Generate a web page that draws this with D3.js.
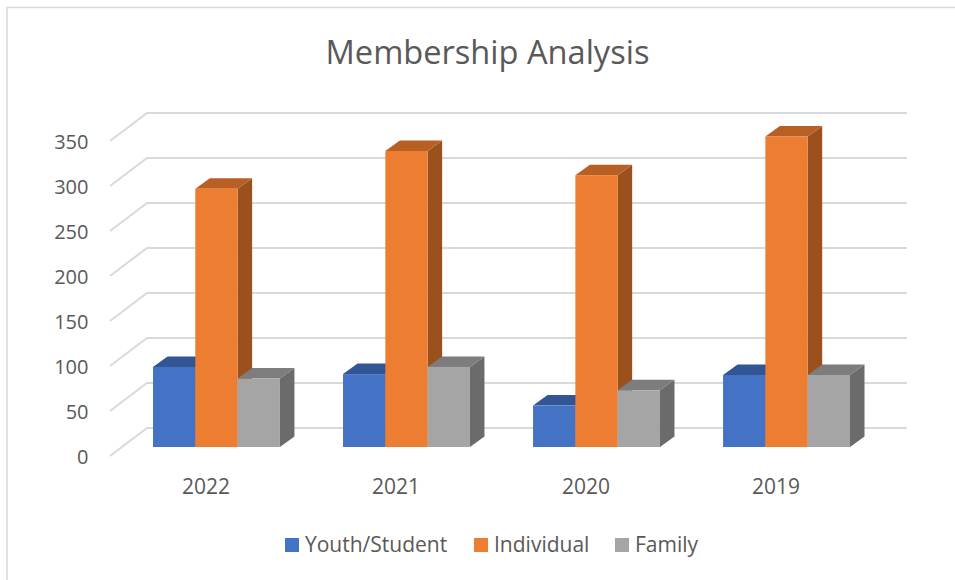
<!DOCTYPE html>
<html>
<head>
<meta charset="utf-8">
<script src="https://d3js.org/d3.v7.min.js"></script>
<style>
  body { margin: 0; background: #fff; }
  text { font-family: "Open Sans", sans-serif; fill: #595959; }
</style>
</head>
<body>
<div id="chart"></div>
<script>
// Chart data
var years = ["2022", "2021", "2020", "2019"];
var seriesNames = ["Youth/Student", "Individual", "Family"];
var youth = [89, 81, 46, 80];
var individual = [287, 329, 302, 345];
var family = [76, 89, 63, 80];
var yTicks = [0, 50, 100, 150, 200, 250, 300, 350];

var seriesValues = [youth, individual, family];

// Front, top and side colours for each series
var frontColors = ["#4472c4", "#ed7d31", "#a5a5a5"];
var topColors = ["#325596", "#b85f23", "#7d7d7d"];
var sideColors = ["#2a4a82", "#9a511e", "#6b6b6b"];

var svgWidth = 955;
var svgHeight = 580;

// Offset of the 3D depth
var depthX = 14.5;
var depthY = -10.5;

var svg = d3.select("#chart")
  .append("svg")
  .attr("width", svgWidth)
  .attr("height", svgHeight)
  .style("display", "block");

// Chart border
svg.append("path")
  .attr("d", "M7,580V7.5H955")
  .attr("fill", "none")
  .attr("stroke", "#d9d9d9")
  .attr("stroke-width", 1.5);

// Scales, yScale is the front edge of the side wall
var yScale = d3.scaleLinear().domain([0, 350]).range([456, 141]);
var xScale = d3.scaleBand().domain(years).range([153, 850]).paddingInner(0.332);
var seriesScale = d3.scaleBand().domain(seriesNames).range([0, xScale.bandwidth()]);

// Gridlines on the side and back wall
svg.append("g")
  .selectAll("path")
  .data(yTicks)
  .enter()
  .append("path")
  .attr("d", d => `M110,${yScale(d)}L147,${yScale(d) - 28}H907`)
  .attr("fill", "none")
  .attr("stroke", "#d9d9d9")
  .attr("stroke-width", 2);

// Y axis labels
var yAxis = svg.append("g")
  .attr("transform", "translate(94.5, 1)")
  .call(d3.axisLeft(yScale).tickValues(yTicks).tickSize(0).tickPadding(6));
yAxis.select(".domain").remove();
yAxis.selectAll("text")
  .attr("font-size", 20)
  .style("font-family", "\"Open Sans\", sans-serif");

// The bars sit part way into the depth of the floor
var barShift = 9;

years.forEach((year, i) => {
  var group = svg.append("g").attr("transform", `translate(${xScale(year)}, 0)`);
  seriesNames.forEach((name, s) => {
    var x0 = seriesScale(name);
    var w = seriesScale.bandwidth();
    var top = yScale(seriesValues[s][i]) - barShift;
    var bottom = yScale(0) - barShift;

    // Side face
    group.append("path")
      .attr("d", `M${x0 + w},${top}l${depthX},${depthY}V${bottom + depthY}l${-depthX},${-depthY}Z`)
      .attr("fill", sideColors[s]);

    // Top face
    group.append("path")
      .attr("d", `M${x0},${top}l${depthX},${depthY}h${w}l${-depthX},${-depthY}Z`)
      .attr("fill", topColors[s]);

    // Front face
    group.append("rect")
      .attr("x", x0)
      .attr("y", top)
      .attr("width", w)
      .attr("height", bottom - top)
      .attr("fill", frontColors[s]);
  });
});

// Year labels
var xAxis = svg.append("g")
  .attr("transform", "translate(-10.5, 473)")
  .call(d3.axisBottom(xScale).tickSize(0).tickPadding(6));
xAxis.select(".domain").remove();
xAxis.selectAll("text")
  .attr("font-size", 21)
  .style("font-family", "\"Open Sans\", sans-serif");

// Title
svg.append("text")
  .attr("x", 487.5)
  .attr("y", 64)
  .attr("text-anchor", "middle")
  .attr("font-size", 32.6)
  .text("Membership Analysis");

// Legend
var legendX = [285, 474, 615];
var legend = svg.append("g")
  .selectAll("g")
  .data(seriesNames)
  .enter()
  .append("g")
  .attr("transform", (d, i) => `translate(${legendX[i]}, 538)`);

legend.append("rect")
  .attr("width", 14)
  .attr("height", 14)
  .attr("fill", (d, i) => frontColors[i]);

legend.append("text")
  .attr("x", 20)
  .attr("y", 14)
  .attr("font-size", 21)
  .text(d => d);
</script>
</body>
</html>
